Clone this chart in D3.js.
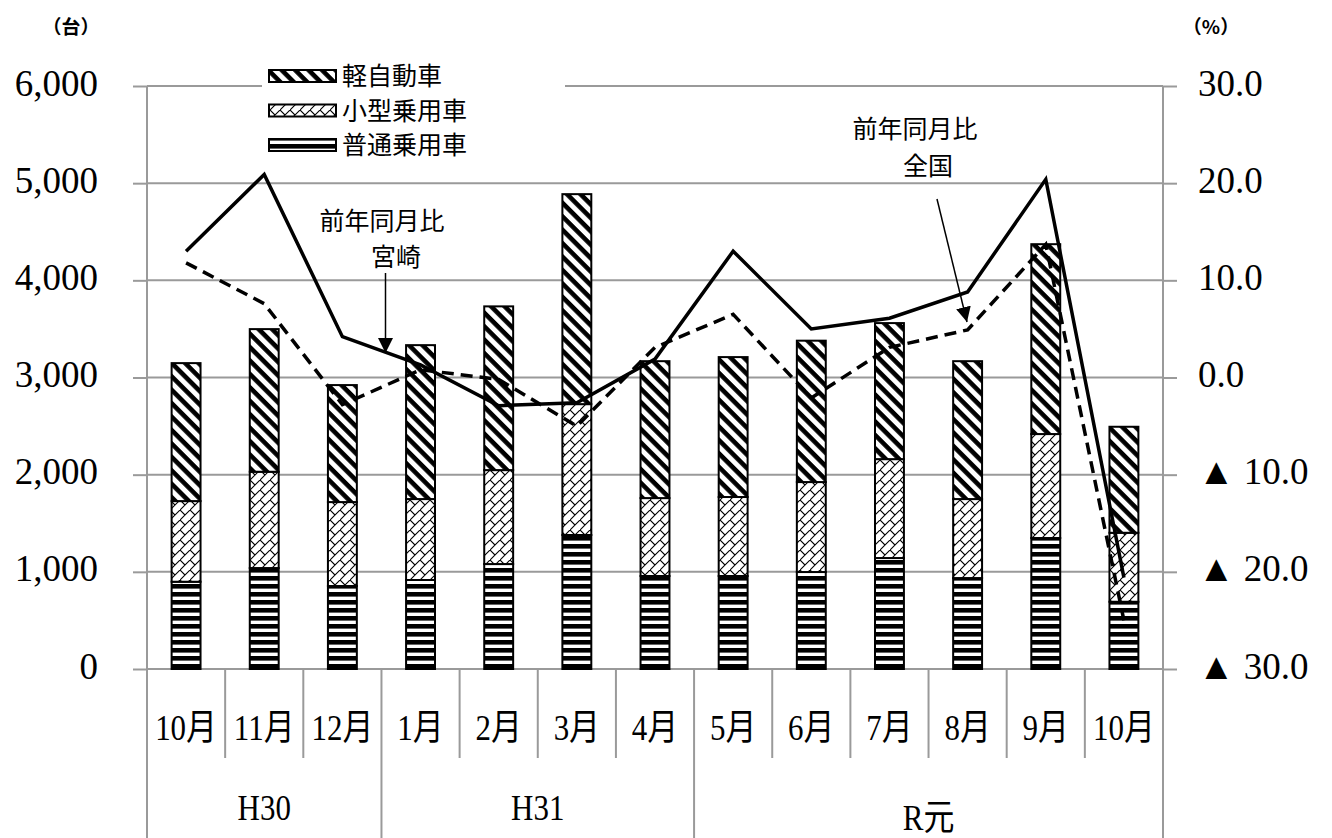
<!DOCTYPE html>
<html>
<head>
<meta charset="utf-8">
<script src="https://cdn.jsdelivr.net/npm/d3@7"></script>
<style>
  html, body { margin: 0; padding: 0; background: #fff; }
  svg { display: block; font-family: "Liberation Serif", "Noto Sans CJK JP", serif; }
</style>
</head>
<body>
<svg id="chart"></svg>
<script>
// 新車登録台数（車種別）と前年同月比 — stacked bars + two % lines

const MONTHS = ['10月', '11月', '12月', '1月', '2月', '3月', '4月', '5月', '6月', '7月', '8月', '9月', '10月'];
const ERAS = [
    { name: 'H30', from: 0, to: 2 },
    { name: 'H31', from: 3, to: 6 },
    { name: 'R元', from: 7, to: 12 },
];

// 台数
const FUTSU = [898, 1039, 854, 916, 1080, 1379, 957, 957, 998, 1142, 936, 1348, 692];
const KOGATA = [830, 991, 864, 833, 967, 1347, 802, 813, 926, 1018, 813, 1070, 710];
const KEI = [1420, 1468, 1204, 1584, 1685, 2161, 1409, 1440, 1455, 1400, 1419, 1954, 1091];

// 前年同月比 (%)
const YOY_MIYAZAKI = [13.0, 20.9, 4.2, 1.3, -2.9, -2.6, 1.9, 13.0, 5.0, 6.1, 8.8, 20.4, -20.6];
const YOY_ZENKOKU = [11.8, 7.6, -2.8, 0.8, -0.2, -5.0, 3.1, 6.5, -2.1, 3.1, 4.9, 13.7, -25.0];

const LEFT_TICKS = [0, 1000, 2000, 3000, 4000, 5000, 6000];
const RIGHT_TICKS = [-30, -20, -10, 0, 10, 20, 30];

const SERIES = [
    { name: '普通乗用車', values: FUTSU, fill: 'url(#p-futsu)' },
    { name: '小型乗用車', values: KOGATA, fill: 'url(#p-kogata)' },
    { name: '軽自動車', values: KEI, fill: 'url(#p-kei)' },
];

const W = 1332, H = 838;
const PL = 147, PR = 1163, PT = 86, PB = 669;
const GRID = '#9a9a9a';

const svg = d3.select('#chart').attr('width', W).attr('height', H);

// ── Patterns ────────────────────────────────────────────────────────────────
const defs = svg.append('defs');

const pKei = defs.append('pattern').attr('id', 'p-kei')
    .attr('patternUnits', 'userSpaceOnUse').attr('width', 9.5).attr('height', 9.5)
    .attr('patternTransform', 'rotate(45)');
pKei.append('rect').attr('width', 9.5).attr('height', 9.5).attr('fill', '#fff');
pKei.append('rect').attr('y', 0).attr('width', 9.5).attr('height', 4.6).attr('fill', '#000');

const pKog = defs.append('pattern').attr('id', 'p-kogata')
    .attr('patternUnits', 'userSpaceOnUse').attr('width', 10).attr('height', 10);
pKog.append('rect').attr('width', 10).attr('height', 10).attr('fill', '#fff');
pKog.append('path').attr('d', 'M-1,11 L11,-1 M0,0 L5,5')
    .attr('stroke', '#000').attr('stroke-width', 1.1).attr('fill', 'none');

const pFut = defs.append('pattern').attr('id', 'p-futsu')
    .attr('patternUnits', 'userSpaceOnUse').attr('width', 8).attr('height', 8);
pFut.append('rect').attr('width', 8).attr('height', 8).attr('fill', '#fff');
pFut.append('rect').attr('y', 0).attr('width', 8).attr('height', 4.6).attr('fill', '#000');

defs.append('marker').attr('id', 'arrow')
    .attr('viewBox', '0 0 10 10').attr('refX', 10).attr('refY', 5)
    .attr('markerUnits', 'userSpaceOnUse')
    .attr('markerWidth', 15).attr('markerHeight', 15)
    .attr('orient', 'auto')
    .append('path').attr('d', 'M0,0 L10,5 L0,10 Z').attr('fill', '#000');

// ── Scales ──────────────────────────────────────────────────────────────────
const x = d3.scaleBand().domain(d3.range(MONTHS.length)).range([PL, PR]).padding(0);
const y = d3.scaleLinear().domain([0, 6000]).range([PB, PT]);
const yR = d3.scaleLinear().domain([-30, 30]).range([PB, PT]);
const barW = x.bandwidth() * 0.37;
const cx = i => x(i) + x.bandwidth() / 2;

// ── Grid ────────────────────────────────────────────────────────────────────
svg.append('g').selectAll('line').data(LEFT_TICKS).join('line')
    .attr('x1', PL).attr('x2', PR)
    .attr('y1', d => y(d)).attr('y2', d => y(d))
    .attr('stroke', GRID).attr('stroke-width', 2);

// ── Axes ────────────────────────────────────────────────────────────────────
const axL = svg.append('g').attr('transform', `translate(${PL},0)`)
    .call(d3.axisLeft(y).tickValues(LEFT_TICKS).tickSize(14).tickSizeOuter(0)
        .tickPadding(35).tickFormat(d3.format(',')));
const axR = svg.append('g').attr('transform', `translate(${PR},0)`)
    .call(d3.axisRight(yR).tickValues(RIGHT_TICKS).tickSize(14).tickSizeOuter(0)
        .tickPadding(21).tickFormat(d => d < 0 ? '▲ ' + Math.abs(d).toFixed(1) : d.toFixed(1)));

[axL, axR].forEach(ax => {
    ax.select('.domain').remove();
    ax.selectAll('.tick line').attr('stroke', GRID).attr('stroke-width', 2);
    ax.selectAll('.tick text').attr('fill', '#000').attr('font-size', '37px')
        .attr('font-family', '"Liberation Serif", "DejaVu Serif", serif').attr('dy', '9px');
});

// vertical axis lines run through the category rows
svg.append('line').attr('x1', PL).attr('x2', PL).attr('y1', PT).attr('y2', H)
    .attr('stroke', GRID).attr('stroke-width', 2);
svg.append('line').attr('x1', PR).attr('x2', PR).attr('y1', PT).attr('y2', H)
    .attr('stroke', GRID).attr('stroke-width', 2);

// ── Category axis (months + era) ────────────────────────────────────────────
const eraStarts = ERAS.map(e => e.from);
const cat = svg.append('g');
cat.selectAll('line.sep').data(d3.range(1, MONTHS.length)).join('line')
    .attr('class', 'sep')
    .attr('x1', d => x(d)).attr('x2', d => x(d))
    .attr('y1', PB).attr('y2', d => eraStarts.includes(d) ? H : 758)
    .attr('stroke', GRID).attr('stroke-width', 2);

cat.selectAll('text.m').data(MONTHS).join('text')
    .attr('class', 'm')
    .attr('transform', (d, i) => `translate(${cx(i)},740) scale(0.86,1)`)
    .attr('text-anchor', 'middle').attr('font-size', '36px').attr('fill', '#000')
    .text(d => d);

cat.selectAll('text.e').data(ERAS).join('text')
    .attr('class', 'e')
    .attr('transform', d => {
        const mx = (x(d.from) + x(d.to) + x.bandwidth()) / 2;
        return `translate(${mx},${d.name === 'R元' ? 830 : 820}) scale(0.86,1)`;
    })
    .attr('text-anchor', 'middle').attr('font-size', '36px').attr('fill', '#000')
    .text(d => d.name);

// ── Stacked bars ────────────────────────────────────────────────────────────
const rows = MONTHS.map((m, i) => ({ i, futsu: FUTSU[i], kogata: KOGATA[i], kei: KEI[i] }));
const stack = d3.stack().keys(['futsu', 'kogata', 'kei'])(rows);

svg.append('g').selectAll('g').data(stack).join('g')
    .attr('fill', (d, k) => SERIES[k].fill)
    .selectAll('rect').data(d => d).join('rect')
    .attr('x', d => cx(d.data.i) - barW / 2)
    .attr('width', barW)
    .attr('y', d => y(d[1]))
    .attr('height', d => y(d[0]) - y(d[1]))
    .attr('stroke', '#000').attr('stroke-width', 2);

// ── Lines ───────────────────────────────────────────────────────────────────
const line = d3.line().x((d, i) => cx(i)).y(d => yR(d));

svg.append('path').datum(YOY_ZENKOKU)
    .attr('d', line).attr('fill', 'none')
    .attr('stroke', '#000').attr('stroke-width', 3.5)
    .attr('stroke-dasharray', '12 7');

svg.append('path').datum(YOY_MIYAZAKI)
    .attr('d', line).attr('fill', 'none')
    .attr('stroke', '#000').attr('stroke-width', 3.5)
    .attr('stroke-linejoin', 'miter');

// ── Legend ──────────────────────────────────────────────────────────────────
const leg = svg.append('g');
leg.append('rect').attr('x', 262).attr('y', 58).attr('width', 303).attr('height', 98).attr('fill', '#fff');
const LEG_ROWS = [SERIES[2], SERIES[1], SERIES[0]];
LEG_ROWS.forEach((s, k) => {
    const cy = 76 + k * 34.5;
    leg.append('rect').attr('x', 269).attr('y', cy - 6).attr('width', 67).attr('height', 12)
        .attr('fill', s.fill).attr('stroke', '#000').attr('stroke-width', 2);
    leg.append('text').attr('x', 342).attr('y', cy).attr('dy', '0.36em')
        .attr('font-size', '25px').attr('fill', '#000').text(s.name);
});

// ── Unit labels ─────────────────────────────────────────────────────────────
svg.append('text').attr('x', 71).attr('y', 27).attr('dy', '0.35em').attr('text-anchor', 'middle')
    .attr('font-family', '"Noto Sans CJK JP", sans-serif').attr('font-weight', 'bold')
    .attr('font-size', '19px').text('（台）');
svg.append('text').attr('x', 1211).attr('y', 27).attr('dy', '0.35em').attr('text-anchor', 'middle')
    .attr('font-family', '"Noto Sans CJK JP", sans-serif').attr('font-weight', 'bold')
    .attr('font-size', '19px').text('（%）');

// ── Annotations ─────────────────────────────────────────────────────────────
const notes = [
    { lines: ['前年同月比', '宮崎'], pos: [[382, 221], [396, 257]], from: [385.5, 273], to: [385.5, 353] },
    { lines: ['前年同月比', '全国'], pos: [[915, 129], [928, 166]], from: [937, 199], to: [967, 322] },
];
notes.forEach(n => {
    n.lines.forEach((t, k) => {
        svg.append('text').attr('x', n.pos[k][0]).attr('y', n.pos[k][1]).attr('dy', '0.36em')
            .attr('text-anchor', 'middle').attr('font-size', '25px').attr('fill', '#000').text(t);
    });
    svg.append('line')
        .attr('x1', n.from[0]).attr('y1', n.from[1]).attr('x2', n.to[0]).attr('y2', n.to[1])
        .attr('stroke', '#000').attr('stroke-width', 1.5).attr('marker-end', 'url(#arrow)');
});
</script>
</body>
</html>
